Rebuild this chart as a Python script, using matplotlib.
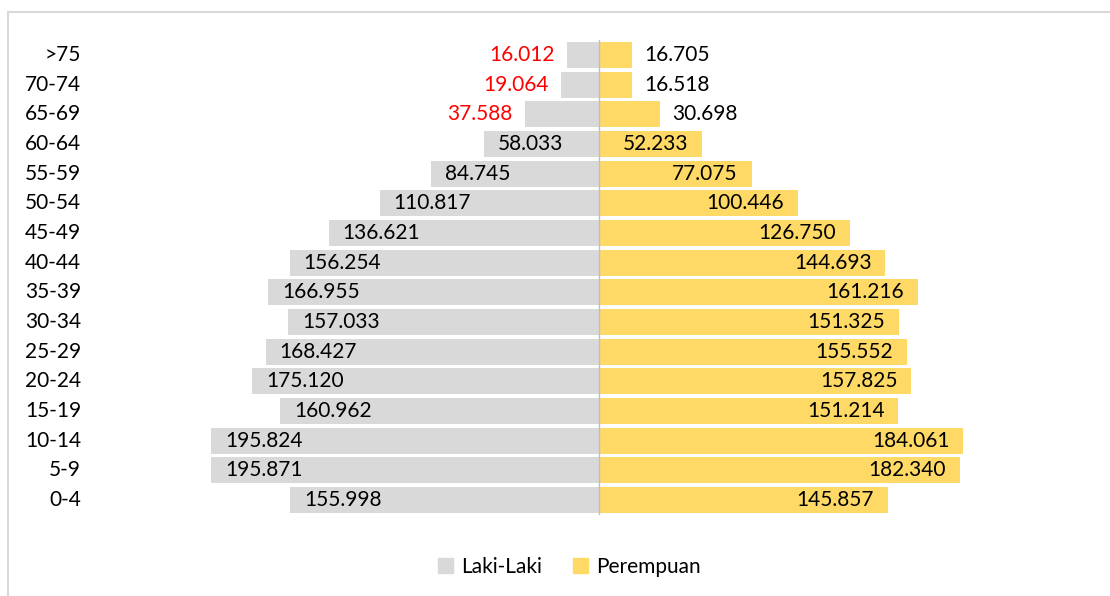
import matplotlib.pyplot as plt
from matplotlib.lines import Line2D
from matplotlib.patches import Patch
from matplotlib.transforms import blended_transform_factory

plt.rcParams['font.family'] = ['Lato', 'DejaVu Sans']

# age groups, bottom to top
groups = ['0-4', '5-9', '10-14', '15-19', '20-24', '25-29', '30-34', '35-39',
          '40-44', '45-49', '50-54', '55-59', '60-64', '65-69', '70-74', '>75']
laki = [155998, 195871, 195824, 160962, 175120, 168427, 157033, 166955,
        156254, 136621, 110817, 84745, 58033, 37588, 19064, 16012]
perempuan = [145857, 182340, 184061, 151214, 157825, 155552, 151325, 161216,
             144693, 126750, 100446, 77075, 52233, 30698, 16518, 16705]

grey = '#D9D9D9'
gold = '#FFD966'
fs = 15

fig = plt.figure(figsize=(11.1, 5.96), dpi=100)
ax = fig.add_axes([0.1829, 0.1362, 0.7135, 0.7964])

y = list(range(len(groups)))
ax.barh(y, [-v / 1000 for v in laki], height=0.88, color=grey)
ax.barh(y, [v / 1000 for v in perempuan], height=0.88, color=gold)

ax.set_xlim(-200, 200)
ax.set_ylim(-0.5, 15.5)
ax.axvline(0, color='#BFBFBF', lw=1)
for s in ax.spines.values():
    s.set_visible(False)
ax.set_xticks([])
ax.set_yticks([])

fmt = lambda v: f'{v:,}'.replace(',', '.')
for i in y:
    m = laki[i] / 1000
    if m < 40:
        ax.annotate(fmt(laki[i]), (-m, i), xytext=(-9, 0), textcoords='offset points',
                    ha='right', va='center', fontsize=fs, color='#FF0000')
    else:
        ax.annotate(fmt(laki[i]), (-m, i), xytext=(10, 0), textcoords='offset points',
                    ha='left', va='center', fontsize=fs, color='black')
    f = perempuan[i] / 1000
    if f < 40:
        ax.annotate(fmt(perempuan[i]), (f, i), xytext=(9, 0), textcoords='offset points',
                    ha='left', va='center', fontsize=fs, color='black')
    else:
        ax.annotate(fmt(perempuan[i]), (f, i), xytext=(-10, 0), textcoords='offset points',
                    ha='right', va='center', fontsize=fs, color='black')

# category labels on the far left
tr = blended_transform_factory(fig.transFigure, ax.transData)
for i, g in enumerate(groups):
    ax.text(81 / 1110, i, g, transform=tr, ha='right', va='center', fontsize=fs)

handles = [Patch(color=grey, label='Laki-Laki'), Patch(color=gold, label='Perempuan')]
fig.legend(handles=handles, loc='center', bbox_to_anchor=(0.513, 0.049), ncol=2,
           frameon=False, fontsize=fs, handlelength=0.7, handleheight=0.7,
           handletextpad=0.4, columnspacing=1.5)

# chart frame (top and left edges)
fig.add_artist(Line2D([8 / 1110, 1], [1 - 12 / 596, 1 - 12 / 596], color='#D9D9D9', lw=1.5))
fig.add_artist(Line2D([8 / 1110, 8 / 1110], [0, 1 - 12 / 596], color='#D9D9D9', lw=1.5))

plt.savefig('out.png', dpi=100)
